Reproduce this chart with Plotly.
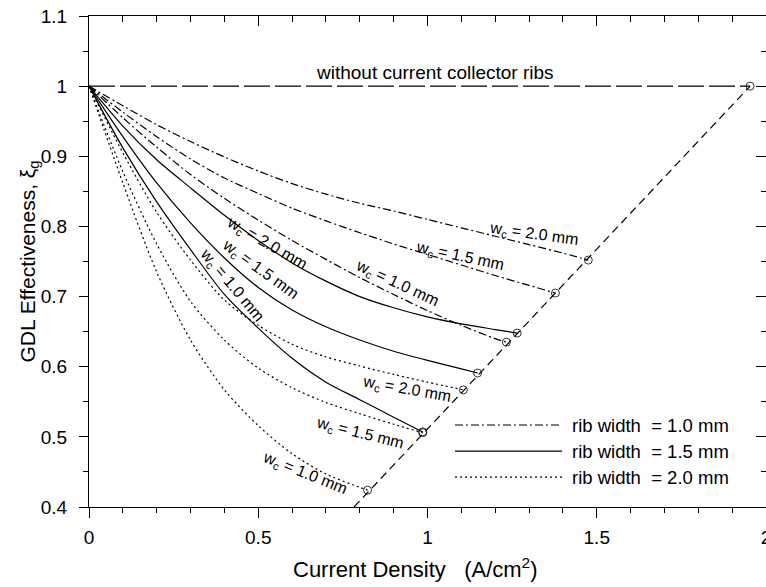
import plotly.graph_objects as go

# ---------------- data ----------------
# rib width = 1.0 mm (dash-dot)
r10_w20_x = [0, 0.1, 0.2, 0.3, 0.4, 0.5, 0.6, 0.7, 0.8, 0.9, 1.0, 1.1, 1.2, 1.3, 1.4, 1.475]
r10_w20_y = [1, 0.972, 0.945, 0.921, 0.899, 0.879, 0.861, 0.846, 0.833, 0.822, 0.810, 0.798, 0.786, 0.774, 0.762, 0.752]
r10_w15_x = [0, 0.1, 0.2, 0.3, 0.4, 0.5, 0.6, 0.7, 0.8, 0.9, 1.0, 1.1, 1.2, 1.3, 1.378]
r10_w15_y = [1, 0.963, 0.928, 0.896, 0.869, 0.847, 0.826, 0.808, 0.791, 0.775, 0.760, 0.745, 0.730, 0.716, 0.705]
r10_w10_x = [0, 0.1, 0.2, 0.3, 0.4, 0.5, 0.6, 0.7, 0.8, 0.9, 1.0, 1.1, 1.2, 1.233]
r10_w10_y = [1, 0.955, 0.913, 0.874, 0.840, 0.809, 0.780, 0.753, 0.727, 0.703, 0.680, 0.659, 0.640, 0.635]

# rib width = 1.5 mm (solid)
r15_w20_x = [0, 0.1, 0.2, 0.3, 0.4, 0.5, 0.6, 0.7, 0.8, 0.9, 1.0, 1.1, 1.2, 1.265]
r15_w20_y = [1, 0.943, 0.895, 0.855, 0.816, 0.780, 0.748, 0.722, 0.700, 0.684, 0.671, 0.661, 0.653, 0.648]
r15_w15_x = [0, 0.1, 0.2, 0.3, 0.4, 0.5, 0.6, 0.7, 0.8, 0.9, 1.0, 1.1, 1.148]
r15_w15_y = [1, 0.928, 0.862, 0.805, 0.755, 0.713, 0.681, 0.657, 0.638, 0.622, 0.609, 0.597, 0.591]
r15_w10_x = [0, 0.1, 0.2, 0.3, 0.4, 0.5, 0.6, 0.7, 0.8, 0.9, 0.986]
r15_w10_y = [1, 0.912, 0.835, 0.767, 0.703, 0.655, 0.612, 0.578, 0.553, 0.528, 0.507]

# rib width = 2.0 mm (dotted)
r20_w20_x = [0, 0.1, 0.2, 0.3, 0.4, 0.5, 0.6, 0.7, 0.8, 0.9, 1.0, 1.106]
r20_w20_y = [1, 0.905, 0.820, 0.752, 0.695, 0.659, 0.632, 0.614, 0.601, 0.589, 0.578, 0.567]
r20_w15_x = [0, 0.1, 0.2, 0.3, 0.4, 0.5, 0.6, 0.7, 0.8, 0.9, 0.986]
r20_w15_y = [1, 0.878, 0.775, 0.693, 0.638, 0.598, 0.570, 0.549, 0.533, 0.518, 0.506]
r20_w10_x = [0, 0.1, 0.2, 0.3, 0.4, 0.5, 0.6, 0.7, 0.8, 0.823]
r20_w10_y = [1, 0.862, 0.735, 0.638, 0.567, 0.516, 0.476, 0.447, 0.428, 0.424]

# reference line without ribs, and limiting line through end points
noribs_x = [0, 1.953]
noribs_y = [1, 1]
limit_x = [0.783, 1.953]
limit_y = [0.4, 1.0]

x_ticks = [0, 0.5, 1, 1.5, 2]
y_ticks = [0.4, 0.5, 0.6, 0.7, 0.8, 0.9, 1.0, 1.1]

wc_labels = ["w<sub>c</sub> = 2.0 mm", "w<sub>c</sub> = 1.5 mm", "w<sub>c</sub> = 1.0 mm"]
legend_labels = ["rib width  = 1.0 mm", "rib width  = 1.5 mm", "rib width  = 2.0 mm"]

# ---------------- figure ----------------
FONT = "Arial, Liberation Sans, sans-serif"
DASHDOT = "8px,3px,2px,3px"
DOT = "2px,3px"
DASH = "8px,5px"
LONGDASH = "26px,5px"

fig = go.Figure()

groups = [
    (DASHDOT, [(r10_w20_x, r10_w20_y), (r10_w15_x, r10_w15_y), (r10_w10_x, r10_w10_y)]),
    ("solid", [(r15_w20_x, r15_w20_y), (r15_w15_x, r15_w15_y), (r15_w10_x, r15_w10_y)]),
    (DOT, [(r20_w20_x, r20_w20_y), (r20_w15_x, r20_w15_y), (r20_w10_x, r20_w10_y)]),
]
end_x, end_y = [], []
for dash, curves in groups:
    for cx, cy in curves:
        fig.add_trace(go.Scatter(
            x=cx, y=cy, mode="lines", line_shape="spline",
            line=dict(color="black", width=1.2, dash=dash, smoothing=0.8),
            showlegend=False, hoverinfo="skip"))
        end_x.append(cx[-1])
        end_y.append(cy[-1])

fig.add_trace(go.Scatter(x=noribs_x, y=noribs_y, mode="lines",
                         line=dict(color="black", width=1.2, dash=LONGDASH),
                         showlegend=False, hoverinfo="skip"))
fig.add_trace(go.Scatter(x=limit_x, y=limit_y, mode="lines",
                         line=dict(color="black", width=1.2, dash=DASH),
                         showlegend=False, hoverinfo="skip",
                         xaxis="x2", yaxis="y2"))
fig.add_trace(go.Scatter(x=end_x + [noribs_x[-1]], y=end_y + [noribs_y[-1]], mode="markers",
                         marker=dict(symbol="circle-open", size=8, color="black",
                                     line=dict(width=0.8)),
                         showlegend=False, hoverinfo="skip"))

# curve labels (x, y, angle)
label_specs = [
    (1.316, 0.789, 8, wc_labels[0]),
    (1.096, 0.757, 12, wc_labels[1]),
    (0.909, 0.718, 25, wc_labels[2]),
    (0.525, 0.776, 30, wc_labels[0]),
    (0.504, 0.738, 36, wc_labels[1]),
    (0.422, 0.716, 50, wc_labels[2]),
    (0.938, 0.568, 10, wc_labels[0]),
    (0.800, 0.505, 14, wc_labels[1]),
    (0.637, 0.448, 22, wc_labels[2]),
]
for lx, ly, ang, txt in label_specs:
    fig.add_annotation(x=lx, y=ly, text=txt, textangle=ang, showarrow=False,
                       font=dict(family=FONT, size=16, color="black"))

fig.add_annotation(x=1.022, y=1.019, text="without current collector ribs", showarrow=False,
                   font=dict(family=FONT, size=19, color="black"))

# legend (drawn as keys)
leg_dash = [DASHDOT, "solid", DOT]
leg_y = [0.167, 0.114, 0.061]
for d, yy, txt in zip(leg_dash, leg_y, legend_labels):
    fig.add_shape(type="line", xref="paper", yref="paper", x0=0.5406, x1=0.6987, y0=yy, y1=yy,
                  line=dict(color="black", width=1.2, dash=d))
    fig.add_annotation(xref="paper", yref="paper", x=0.7105, y=yy, xanchor="left", yanchor="middle",
                       text=txt, showarrow=False, font=dict(family=FONT, size=18.5, color="black"))

# axis titles
fig.add_annotation(xref="paper", yref="paper", x=0.483, y=-0.124, yanchor="middle",
                   text="Current Density   (A/cm<sup>2</sup>)", showarrow=False,
                   font=dict(family=FONT, size=22, color="black"))
fig.add_annotation(xref="paper", yref="paper", x=-0.09, y=0.5, xanchor="center",
                   text="GDL Effectiveness, ξ<sub>g</sub>", textangle=-90, showarrow=False,
                   font=dict(family=FONT, size=21, color="black"))

axis_common = dict(showgrid=False, zeroline=False, linecolor="black", linewidth=1.3,
                   tickcolor="black", tickwidth=1.2, automargin=False)
fig.update_layout(
    width=766, height=587,
    margin=dict(l=89, r=0, t=16, b=80, autoexpand=False),
    paper_bgcolor="white", plot_bgcolor="white",
    font=dict(family=FONT, size=19, color="black"),
    xaxis=dict(range=[0, 2], tickvals=x_ticks, ticks="outside", ticklen=10,
               showline=True, ticklabelstandoff=3, ticklabeloverflow="allow",
               minor=dict(dtick=0.1, ticks="outside", ticklen=5, tickcolor="black", tickwidth=1.2),
               tickfont=dict(size=19), **axis_common),
    yaxis=dict(range=[0.4, 1.1], tickvals=y_ticks, ticks="outside", ticklen=9,
               showline=True, ticklabelstandoff=8, ticklabeloverflow="allow",
               minor=dict(dtick=0.05, ticks="outside", ticklen=5, tickcolor="black", tickwidth=1.2),
               tickfont=dict(size=19), **axis_common),
    xaxis2=dict(range=[0, 2], overlaying="x", side="top", tickvals=x_ticks, ticks="inside",
                ticklen=10, showticklabels=False, showline=True,
                minor=dict(dtick=0.1, ticks="inside", ticklen=6, tickcolor="black", tickwidth=1.2),
                **axis_common),
    yaxis2=dict(range=[0.4, 1.1], overlaying="y", side="right", tickvals=y_ticks, ticks="inside",
                ticklen=10, showticklabels=False, showline=False,
                minor=dict(dtick=0.05, ticks="inside", ticklen=5, tickcolor="black", tickwidth=1.2),
                **axis_common),
)

fig.write_html("out.html")
